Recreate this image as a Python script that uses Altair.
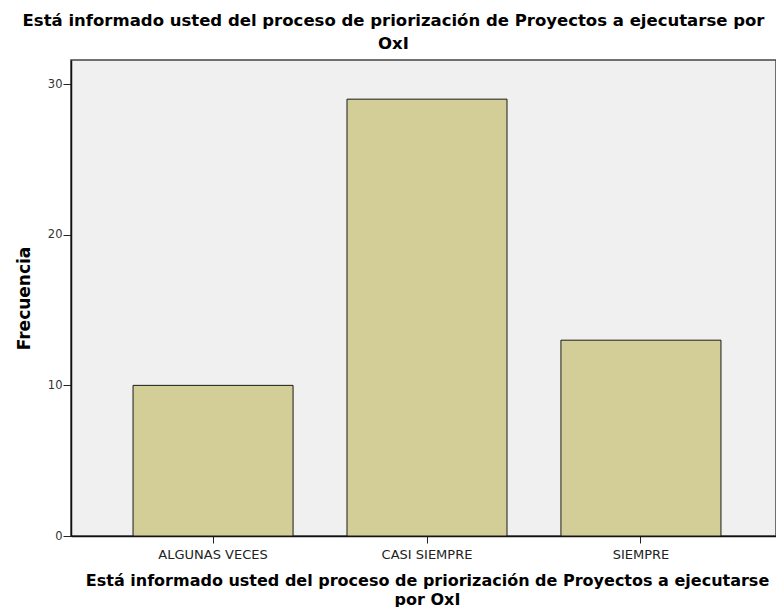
import altair as alt
import pandas as pd

categories = ["ALGUNAS VECES", "CASI SIEMPRE", "SIEMPRE"]
frequencies = [10, 29, 13]
y_ticks = [0, 10, 20, 30]

title_lines = ["Está informado usted del proceso de priorización de Proyectos a ejecutarse por", "OxI"]
x_title_lines = ["Está informado usted del proceso de priorización de Proyectos a ejecutarse", "por OxI"]
y_title = "Frecuencia"

df = pd.DataFrame({"cat": categories, "freq": frequencies})

FONT = "DejaVu Sans"

chart = alt.Chart(df).mark_bar(
    color="#D3CE97", stroke="#1a1a1a", strokeWidth=1
).encode(
    x=alt.X(
        "cat:N",
        sort=categories,
        scale=alt.Scale(paddingInner=0.252, paddingOuter=0.29, range=[0, 712]),
        axis=alt.Axis(
            title=x_title_lines,
            labelAngle=0,
            labelFont=FONT,
            labelFontSize=13,
            labelColor="#222222",
            labelPadding=5,
            tickSize=7,
            tickColor="#222222",
            domainColor="#111111",
            domainWidth=1.5,
            titleFont=FONT,
            titleFontSize=16,
            titleFontWeight="bold",
            titleColor="#000000",
            titlePadding=11,
            titleLineHeight=19,
        ),
    ),
    y=alt.Y(
        "freq:Q",
        scale=alt.Scale(domain=[0, 31.6], nice=False),
        axis=alt.Axis(
            values=y_ticks,
            title=y_title,
            grid=False,
            labelFont=FONT,
            labelFontSize=11.5,
            labelColor="#333333",
            labelPadding=1,
            tickSize=8,
            tickColor="#222222",
            domainColor="#111111",
            domainWidth=1.5,
            titleFont=FONT,
            titleFontSize=17,
            titleFontWeight="bold",
            titleColor="#000000",
            titlePadding=14,
        ),
    ),
).properties(
    width=705,
    height=476,
    title=alt.TitleParams(
        text=title_lines,
        font=FONT,
        fontSize=16.5,
        fontWeight="bold",
        color="#000000",
        anchor="middle",
        dx=-30,
        offset=8,
        lineHeight=23,
    ),
    padding={"left": 63, "top": 52, "right": 0, "bottom": 71},
    autosize="none",
).configure_view(
    fill="#F0F0F0", stroke="#444444", strokeWidth=1.5
)

chart.save("out.html", embed_options={"renderer": "svg", "actions": False})
